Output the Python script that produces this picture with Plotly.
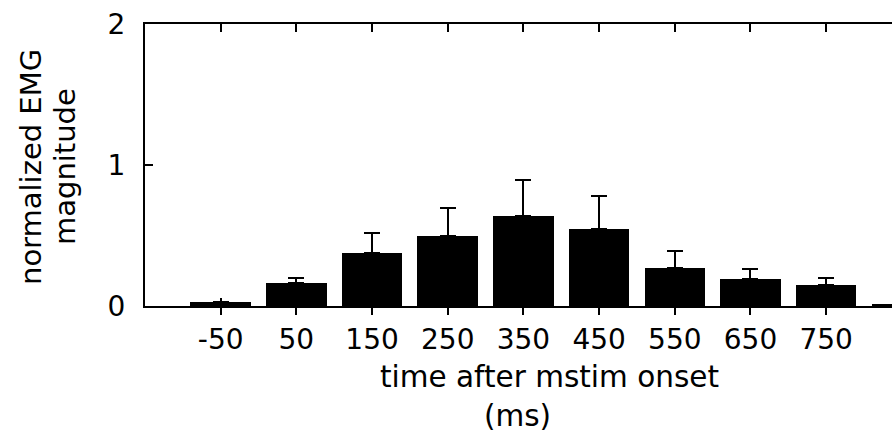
import plotly.graph_objects as go

times = [-50, 50, 150, 250, 350, 450, 550, 650, 750, 850]
emg = [0.03, 0.163, 0.376, 0.50, 0.636, 0.546, 0.27, 0.19, 0.147, 0.01]
err = [0.0, 0.036, 0.145, 0.197, 0.26, 0.237, 0.12, 0.07, 0.052, 0.0]
tick_vals = [-50, 50, 150, 250, 350, 450, 550, 650, 750]
tick_text = ["-50", "50", "150", "250", "350", "450", "550", "650", "750"]
y_ticks = [0, 1, 2]
y_title_lines = ["normalized EMG", "magnitude"]
x_title_lines = ["time after mstim onset", "(ms)"]

FONT = "DejaVu Sans, sans-serif"
L, T, PW, PH = 145, 24, 747, 282

fig = go.Figure()
fig.add_trace(go.Bar(
    x=times, y=emg, width=80,
    marker=dict(color="black", line=dict(width=0)),
    error_y=dict(type="data", array=err, symmetric=False, arrayminus=[0]*len(err),
                 color="black", thickness=2, width=8),
    showlegend=False,
))
# invisible trace to attach the top axis
fig.add_trace(go.Scatter(x=tick_vals, y=[0]*len(tick_vals), xaxis="x2", mode="markers",
                         marker=dict(opacity=0), showlegend=False, hoverinfo="skip"))

xr = [-150, 837]
fig.update_layout(
    width=892, height=434,
    margin=dict(l=L, r=892 - L - PW, t=T, b=434 - T - PH),
    paper_bgcolor="white", plot_bgcolor="white",
    font=dict(family=FONT, size=28, color="black"),
    bargap=0,
    xaxis=dict(range=xr, tickvals=tick_vals, ticktext=tick_text,
               ticks="outside", ticklen=7, tickwidth=1.5, tickcolor="black",
               showline=True, linewidth=2, linecolor="black",
               showgrid=False, zeroline=False,
               tickfont=dict(size=28)),
    xaxis2=dict(range=xr, overlaying="x", side="top", tickvals=tick_vals,
                ticks="inside", ticklen=8, tickwidth=1.5, tickcolor="black",
                showline=True, linewidth=2, linecolor="black", mirror="ticks",
                showticklabels=False, showgrid=False, zeroline=False),
    yaxis=dict(range=[0, 2], tickvals=y_ticks, ticktext=[str(v) for v in y_ticks],
               ticks="inside", ticklen=8, tickwidth=1.5, tickcolor="black",
               showline=True, linewidth=2, linecolor="black",
               showgrid=False, zeroline=False,
               tickfont=dict(size=28), ticklabelstandoff=12),
)
for txt, xp in zip(y_title_lines, [31, 65]):
    fig.add_annotation(text=txt, textangle=-90, xref="paper", yref="paper",
                       x=(xp - L) / PW, y=(T + PH - 167) / PH,
                       xanchor="center", yanchor="middle", showarrow=False,
                       font=dict(size=29, family=FONT))
for txt, xp, yp in zip(x_title_lines, [549, 517], [377, 416]):
    fig.add_annotation(text=txt, xref="paper", yref="paper",
                       x=(xp - L) / PW, y=(T + PH - yp) / PH,
                       xanchor="center", yanchor="middle", showarrow=False,
                       font=dict(size=29.5, family=FONT))

fig.write_html("out.html")
